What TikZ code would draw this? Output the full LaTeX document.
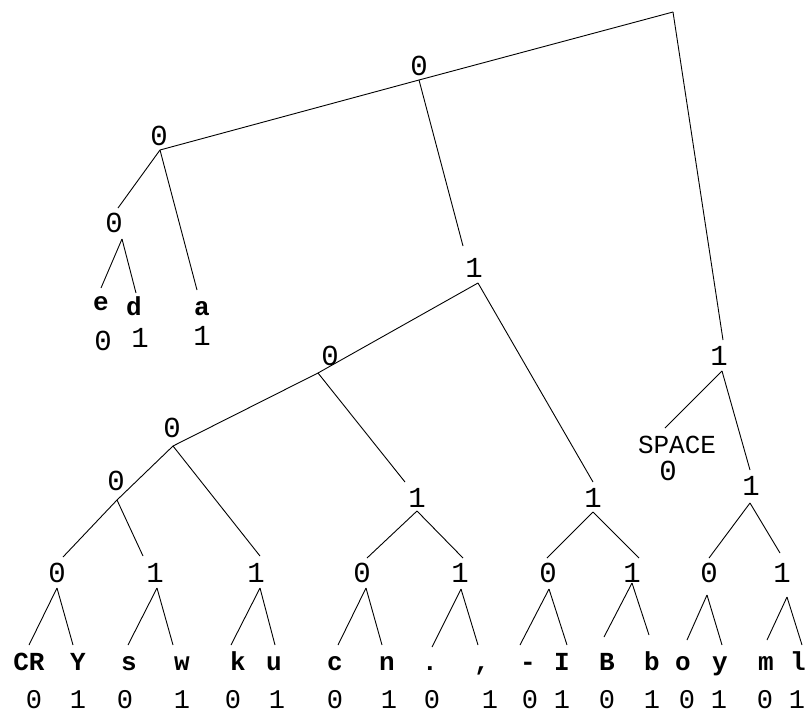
\documentclass[tikz,border=0pt]{standalone}
\usepackage{fontspec}
\setmainfont{Liberation Mono}
\begin{document}
\begin{tikzpicture}[x=1pt,y=-1pt,
  lvl/.style={inner sep=0pt,anchor=base,font=\fontsize{29}{29}\selectfont},
  leaf/.style={inner sep=0pt,anchor=base,font=\fontsize{26}{26}\selectfont\bfseries},
  bit/.style={inner sep=0pt,anchor=base,font=\fontsize{27}{27}\selectfont},
  edge/.style={line width=0.9pt,black}]
\useasboundingbox (0,0) rectangle (811,713);
% ---------- internal level labels ----------
\node[lvl] (lA) at (419,75) {0};
\node[lvl] (lB) at (159,145) {0};
\node[lvl] (lC) at (114,232) {0};
\node[lvl] (lD) at (474,277) {1};
\node[lvl] (lE) at (330,365) {0};
\node[lvl] (lQ) at (719,365) {1};
\node[lvl] (lG) at (172,437) {0};
\node[lvl] (lI) at (116,490) {0};
\node[lvl] (lS) at (751,495) {1};
\node[lvl] (lH) at (417,507) {1};
\node[lvl] (lF) at (593,507) {1};
\node[lvl] (lK) at (57,582) {0};
\node[lvl] (lL) at (155,582) {1};
\node[lvl] (lJ) at (256,582) {1};
\node[lvl] (lM) at (362,582) {0};
\node[lvl] (lN) at (460,582) {1};
\node[lvl] (lO) at (548,582) {0};
\node[lvl] (lP) at (632,582) {1};
\node[lvl] (lT) at (709,582) {0};
\node[lvl] (lU) at (782,582) {1};
% ---------- upper leaves ----------
\node[leaf] (le) at (101,310) {e};
\node[leaf] (ld) at (134,315) {d};
\node[leaf] (la) at (202,315) {a};
\node[lvl] (be) at (103,350) {0};
\node[lvl] (bd) at (140,347) {1};
\node[lvl] (ba) at (202,345) {1};
\node[lvl,font=\fontsize{26}{26}\selectfont] (lsp) at (677,453) {SPACE};
\node[lvl] (bsp) at (668,480) {0};
% ---------- bottom leaves ----------
\foreach \n/\t/\x in {CR/CR/29, Y/Y/78, s/s/129, w/w/182, k/k/238, u/u/274,
  c/c/335, n/n/387, dot/./430, com/{,}/482, dash/-/528, I/I/562,
  B/B/607, b/b/652, o/o/683, y/y/720, m/m/766, l/l/798}
  \node[leaf] (leaf\n) at (\x,670) {\t};
\foreach \n/\t/\x in {1/0/34, 2/1/78, 3/0/125, 4/1/182, 5/0/233, 6/1/277,
  7/0/335, 8/1/389, 9/0/432, 10/1/490, 11/0/530, 12/1/562,
  13/0/607, 14/1/652, 15/0/687, 16/1/719, 17/0/765, 18/1/797}
  \node[bit] (bit\n) at (\x,708) {\t};
% ---------- vertices ----------
\coordinate (vR) at (673,12);
\coordinate (vA) at (419,80);
\coordinate (vB) at (160,150);
\coordinate (vC) at (122,239);
\coordinate (vD) at (478,283);
\coordinate (vE) at (318,373);
\coordinate (vF) at (593,512);
\coordinate (vG) at (173,446);
\coordinate (vH) at (417,511);
\coordinate (vI) at (117,500);
\coordinate (vJ) at (260,588);
\coordinate (vK) at (57,588);
\coordinate (vL) at (157,588);
\coordinate (vM) at (366,588);
\coordinate (vN) at (461,589);
\coordinate (vO) at (549,589);
\coordinate (vP) at (632,583);
\coordinate (vQ) at (722,371);
\coordinate (vS) at (750,503);
\coordinate (vT) at (707,595);
\coordinate (vU) at (787,597);
% ---------- edge ends ----------
\coordinate (eC) at (118,208);
\coordinate (ee) at (101,288);
\coordinate (ed) at (136,293);
\coordinate (ea) at (197,290);
\coordinate (eD) at (463,246);
\coordinate (eF) at (593,482);
\coordinate (eH) at (405,482);
\coordinate (eJ) at (260,556);
\coordinate (eK) at (63,557);
\coordinate (eL) at (143,556);
\coordinate (eM) at (367,558);
\coordinate (eN) at (463,558);
\coordinate (eO) at (547,558);
\coordinate (eP) at (639,558);
\coordinate (eQ) at (723,340);
\coordinate (esp) at (665,428);
\coordinate (eS) at (750,470);
\coordinate (eT) at (709,558);
\coordinate (eU) at (780,553);
\coordinate (eCR) at (29,645);
\coordinate (eY) at (73,645);
\coordinate (es) at (128,645);
\coordinate (ew) at (173,645);
\coordinate (ek) at (231,645);
\coordinate (eu) at (275,645);
\coordinate (ec) at (338,645);
\coordinate (en) at (382,645);
\coordinate (edot) at (432,647);
\coordinate (ecom) at (478,645);
\coordinate (edash) at (520,645);
\coordinate (eI) at (567,645);
\coordinate (eB) at (604,637);
\coordinate (eb) at (649,635);
\coordinate (eo) at (687,640);
\coordinate (ey) at (722,645);
\coordinate (em) at (767,640);
\coordinate (el) at (802,645);
% ---------- connectors ----------
\draw[edge] (vR) -- (vA);
\draw[edge] (vA) -- (vB);
\draw[edge] (vB) -- (eC);
\draw[edge] (vC) -- (ee);
\draw[edge] (vC) -- (ed);
\draw[edge] (vB) -- (ea);
\draw[edge] (vA) -- (eD);
\draw[edge] (vD) -- (vE);
\draw[edge] (vD) -- (eF);
\draw[edge] (vE) -- (vG);
\draw[edge] (vE) -- (eH);
\draw[edge] (vG) -- (vI);
\draw[edge] (vG) -- (eJ);
\draw[edge] (vI) -- (eK);
\draw[edge] (vI) -- (eL);
\draw[edge] (vH) -- (eM);
\draw[edge] (vH) -- (eN);
\draw[edge] (vF) -- (eO);
\draw[edge] (vF) -- (eP);
\draw[edge] (vR) -- (eQ);
\draw[edge] (vQ) -- (esp);
\draw[edge] (vQ) -- (eS);
\draw[edge] (vS) -- (eT);
\draw[edge] (vS) -- (eU);
\draw[edge] (vK) -- (eCR);
\draw[edge] (vK) -- (eY);
\draw[edge] (vL) -- (es);
\draw[edge] (vL) -- (ew);
\draw[edge] (vJ) -- (ek);
\draw[edge] (vJ) -- (eu);
\draw[edge] (vM) -- (ec);
\draw[edge] (vM) -- (en);
\draw[edge] (vN) -- (edot);
\draw[edge] (vN) -- (ecom);
\draw[edge] (vO) -- (edash);
\draw[edge] (vO) -- (eI);
\draw[edge] (vP) -- (eB);
\draw[edge] (vP) -- (eb);
\draw[edge] (vT) -- (eo);
\draw[edge] (vT) -- (ey);
\draw[edge] (vU) -- (em);
\draw[edge] (vU) -- (el);
\end{tikzpicture}
\end{document}
